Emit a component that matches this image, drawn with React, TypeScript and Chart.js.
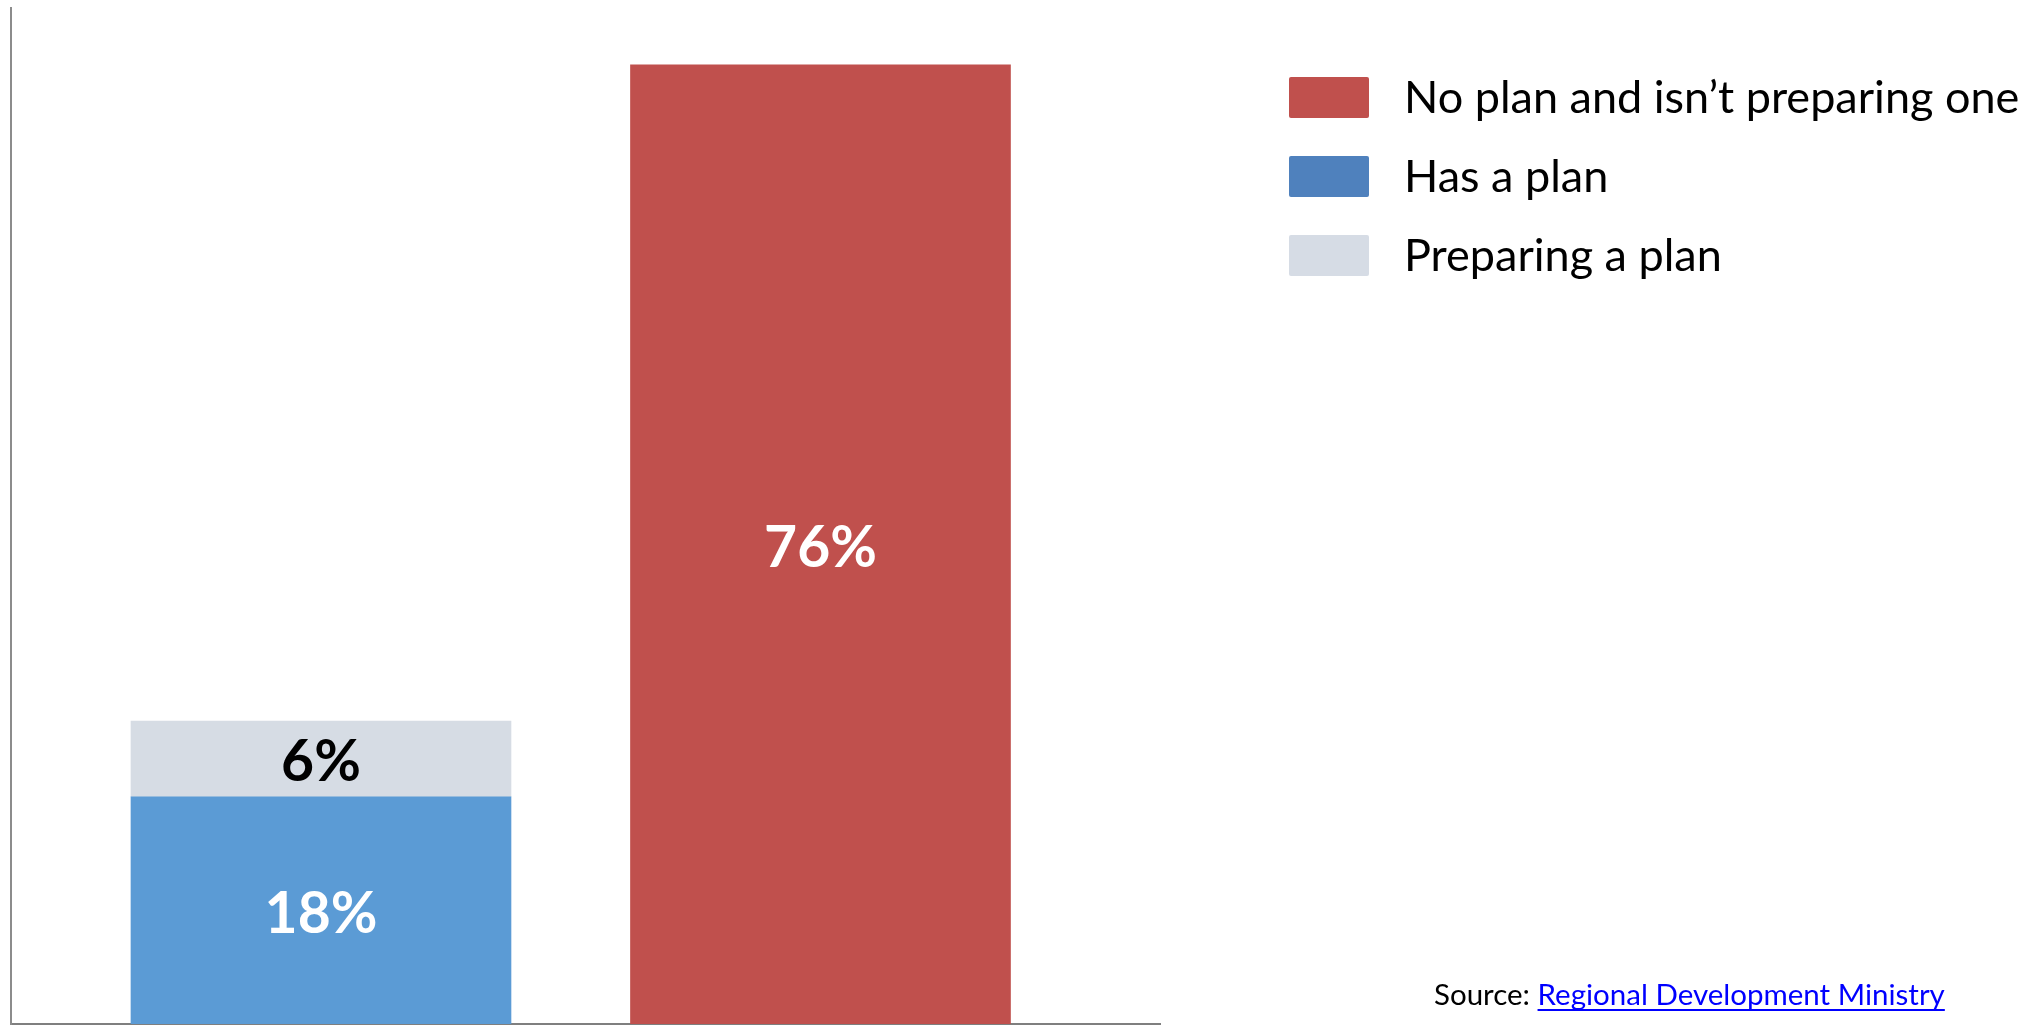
import React, { useEffect, useRef } from 'react';
import { Chart, registerables } from 'chart.js';

Chart.register(...registerables);

// ---- data ----
const categoryPositions = [1, 2];
const seriesLabels = ['No plan and isn’t preparing one', 'Has a plan', 'Preparing a plan'];
const noPlanValues: (number | null)[] = [null, 76];
const hasPlanValues: (number | null)[] = [18, null];
const preparingValues: (number | null)[] = [6, null];
const sourcePrefix = 'Source: ';
const sourceName = 'Regional Development Ministry';

// ---- styles ----
const barColors = ['#C0504D', '#5B9BD5', '#D6DCE4'];
const legendColors = ['#C0504D', '#4F81BD', '#D6DCE5'];
const valueLabelColors = ['#FFFFFF', '#FFFFFF', '#000000'];
const FONT = 'Lato, "Open Sans", sans-serif';

const seriesValues = [noPlanValues, hasPlanValues, preparingValues];

const valueLabelPlugin = {
  id: 'valueLabels',
  afterDatasetsDraw(chart: any) {
    const ctx = chart.ctx;
    ctx.save();
    ctx.font = `bold 57px ${FONT}`;
    ctx.textAlign = 'center';
    ctx.textBaseline = 'middle';
    chart.data.datasets.forEach((ds: any, i: number) => {
      const meta = chart.getDatasetMeta(i);
      meta.data.forEach((el: any, j: number) => {
        const p = el.getProps(['x', 'y', 'base'], true);
        const v = ds.data[j].y;
        ctx.fillStyle = valueLabelColors[i];
        ctx.fillText(`${v}%`, p.x, (p.y + p.base) / 2 + 4);
      });
    });
    ctx.restore();
  },
};

const sideLegendPlugin = {
  id: 'sideLegend',
  afterDraw(chart: any) {
    const ctx = chart.ctx;
    const left = chart.chartArea.right + 129;
    ctx.save();
    ctx.font = `45px ${FONT}`;
    ctx.textBaseline = 'middle';
    ctx.textAlign = 'left';
    seriesLabels.forEach((label, i) => {
      const top = 77 + i * 79;
      ctx.fillStyle = legendColors[i];
      ctx.beginPath();
      (ctx as any).roundRect(left, top, 80, 41, 2);
      ctx.fill();
      ctx.fillStyle = '#000000';
      ctx.fillText(label, left + 115, top + 21);
    });

    // source note
    ctx.font = `29.5px ${FONT}`;
    const sx = 1434;
    const sy = 995;
    ctx.fillStyle = '#000000';
    ctx.fillText(sourcePrefix, sx, sy);
    const pw = ctx.measureText(sourcePrefix).width;
    ctx.fillStyle = '#0000FF';
    ctx.fillText(sourceName, sx + pw, sy);
    const nw = ctx.measureText(sourceName).width;
    ctx.fillRect(sx + pw, sy + 14, nw, 2);
    ctx.restore();
  },
};

export default function App() {
  const canvasRef = useRef<HTMLCanvasElement | null>(null);

  useEffect(() => {
    document.body.style.margin = '0';
    const canvas = canvasRef.current;
    if (!canvas) return;
    const datasets = seriesValues.map((vals, i) => ({
      label: seriesLabels[i],
      data: vals
        .map((v, j) => (v === null ? null : { x: categoryPositions[j], y: v }))
        .filter((d) => d !== null),
      backgroundColor: barColors[i],
      borderWidth: 0,
      barThickness: 380,
    }));
    const chart = new Chart(canvas, {
      type: 'bar',
      data: { datasets: datasets as any },
      options: {
        animation: false,
        responsive: false,
        devicePixelRatio: 1,
        layout: { padding: { left: 11, top: 8, right: 879, bottom: 1 } },
        plugins: {
          legend: { display: false },
          tooltip: { enabled: false },
        },
        scales: {
          x: {
            type: 'linear',
            min: 0.3794,
            max: 2.6797,
            bounds: 'data',
            offset: false,
            stacked: true,
            z: 1,
            grid: { display: false, drawTicks: false, offset: false },
            ticks: { display: false },
            border: { display: true, color: '#7F7F7F', width: 2 },
          },
          y: {
            type: 'linear',
            min: 0,
            max: 80.5,
            bounds: 'data',
            stacked: true,
            grid: { display: false, drawTicks: false },
            ticks: { display: false },
            border: { display: true, color: '#8C8C8C', width: 2 },
          },
        },
      },
      plugins: [valueLabelPlugin, sideLegendPlugin],
    });
    return () => chart.destroy();
  }, []);

  return (
    <div style={{ width: 2039, height: 1025, background: '#FFFFFF' }}>
      <canvas ref={canvasRef} width={2039} height={1025} style={{ display: 'block' }} />
    </div>
  );
}
